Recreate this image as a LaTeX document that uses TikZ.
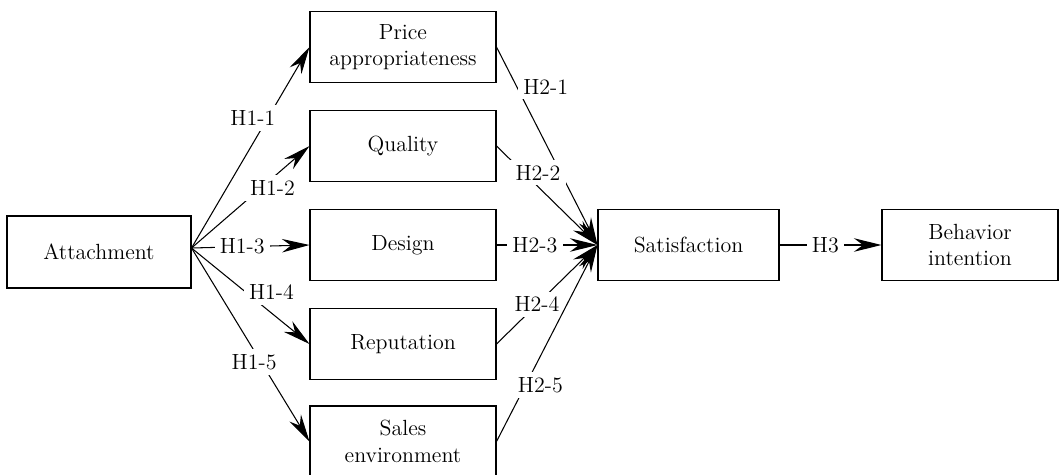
\documentclass[tikz,border=0pt]{standalone}
\usepackage{tikz}
\usetikzlibrary{positioning,arrows.meta}
\tikzset{hbox/.style={draw, line width=0.6pt, align=center, minimum width=3.72cm, minimum height=1.42cm, inner sep=2pt}}
\tikzset{hlab/.style={fill=white, inner sep=3pt}}
\tikzset{arr/.style={draw, line width=0.6pt, -{Stealth[length=0.55cm,width=0.27cm,inset=0.18cm]}}}

\begin{document}
\begin{tikzpicture}[x=0.02cm, y=-0.02cm, font=\fontsize{12.5}{15}\selectfont]
	\useasboundingbox (0,0) rectangle (1059,474);
\begin{scope}[every node/.style={hbox}]
	\node[minimum width=3.68cm, minimum height=1.44cm] at (99, 252) (att) {Attachment};
	\node at (403, 47) (price) {Price\\appropriateness};
	\node at (403, 146) (qual) {Quality};
	\node at (403, 245) (design) {Design};
	\node at (403, 344) (rep) {Reputation};
	\node at (403, 441.5) (sales) {Sales\\environment};
	\node[minimum width=3.62cm] at (688.5, 245) (sat) {Satisfaction};
	\node[minimum width=3.52cm] at (970, 245) (beh) {Behavior\\intention};
\end{scope}
	\coordinate (src) at ([yshift=0.08cm]att.east);
	\draw[arr] (src) to node[hlab, pos=0.647, xshift=-0.3cm]{H1-1} (price.west);
	\draw[arr] (src) to node[hlab, pos=0.686, yshift=-0.2cm]{H1-2} (qual.west);
	\draw[arr] (src) to node[hlab, pos=0.43]{H1-3} (design.west);
	\draw[arr] (src) to node[hlab, pos=0.678, yshift=0.42cm]{H1-4} (rep.west);
	\draw[arr] (src) to node[hlab, pos=0.59, xshift=-0.14cm]{H1-5} (sales.west);

	\draw[arr] (price.east) to node[hlab, pos=0.2, xshift=0.58cm]{H2-1} (sat.west);
	\draw[arr] (qual.east) to node[hlab, pos=0.41, yshift=0.28cm]{H2-2} (sat.west);
	\draw[arr] (design.east) to node[hlab, pos=0.38]{H2-3} (sat.west);
	\draw[arr] (rep.east) to node[hlab, pos=0.4]{H2-4} (sat.west);
	\draw[arr] (sales.east) to node[hlab, pos=0.286, xshift=0.3cm]{H2-5} (sat.west);

	\draw[arr] (sat.east) to node[hlab, pos=0.45]{H3} (beh.west);
\end{tikzpicture}
\end{document}
